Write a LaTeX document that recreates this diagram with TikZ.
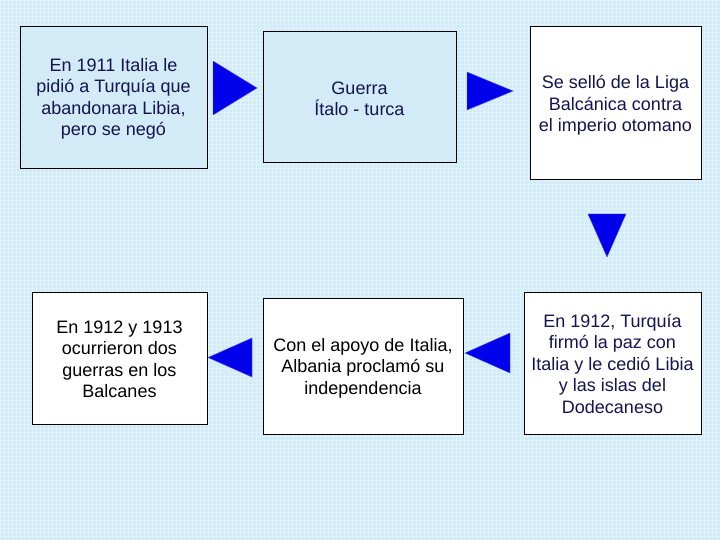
\documentclass[tikz,border=0pt]{standalone}
\usepackage{fontspec}
\setmainfont{Liberation Sans}
\usetikzlibrary{calc}
\definecolor{bgblue}{RGB}{210,235,247}
\definecolor{gridblue}{RGB}{223,241,250}
\definecolor{navytext}{RGB}{20,20,80}
\definecolor{arrowblue}{RGB}{0,0,235}
\tikzset{
  box/.style={draw=black, line width=0.9pt, inner sep=0pt, font=\fontsize{18}{21.5}\selectfont, align=center},
  bluebox/.style={box, fill=bgblue, text=navytext},
  whitebox/.style={box, fill=white},
  tri/.style={fill=arrowblue, draw=arrowblue!70!white, line width=0.4pt, line join=miter}
}
\begin{document}
\begin{tikzpicture}[x=1pt,y=-1pt]
\useasboundingbox (0,0) rectangle (720,540);
\fill[bgblue] (0,0) rectangle (720,540);
\foreach \i in {0,4,...,720} {\draw[gridblue, line width=0.5pt] (\i,0) -- (\i,540);}
\foreach \j in {0,4,...,540} {\draw[gridblue, line width=0.5pt] (0,\j) -- (720,\j);}
% boxes
\node[bluebox, minimum width=187pt, minimum height=142pt] (b1) at (113.5,97) {\rule{0pt}{17pt}En 1911 Italia le\\pidió a Turquía que\\abandonara Libia,\\pero se negó};
\node[bluebox, minimum width=193pt, minimum height=131pt] (b2) at (359.5,96.5) {\rule{0pt}{17pt}Guerra\\Ítalo - turca};
\node[whitebox, text=navytext, minimum width=171pt, minimum height=153pt] (b3) at (615.5,102.5) {\rule{0pt}{19pt}Se selló de la Liga\\Balcánica contra\\el imperio otomano};
\node[whitebox, text=navytext, minimum width=177pt, minimum height=142pt] (b4) at (612.5,363) {\rule{0pt}{15pt}En 1912, Turquía\\firmó la paz con\\Italia y le cedió Libia\\y las islas del\\Dodecaneso};
\node[whitebox, text=black, minimum width=200pt, minimum height=136pt] (b5) at (363,366) {\rule{0pt}{17pt}Con el apoyo de Italia,\\Albania proclamó su\\independencia};
\node[whitebox, text=black, minimum width=175pt, minimum height=132pt] (b6) at (119.5,358) {\rule{0pt}{15pt}En 1912 y 1913\\ocurrieron dos\\guerras en los\\Balcanes};
% triangle arrows
\coordinate (t1) at (235,88);
\fill[tri] ($(t1)+(-22,-27)$) -- ($(t1)+(22,0)$) -- ($(t1)+(-22,27)$) -- cycle;
\coordinate (t2) at (490,91);
\fill[tri] ($(t2)+(-23,-19)$) -- ($(t2)+(23,0)$) -- ($(t2)+(-23,19)$) -- cycle;
\coordinate (t3) at (607,235.5);
\fill[tri] ($(t3)+(-19,-21.5)$) -- ($(t3)+(19,-21.5)$) -- ($(t3)+(0,21.5)$) -- cycle;
\coordinate (t4) at (487.5,353);
\fill[tri] ($(t4)+(22.5,-20)$) -- ($(t4)+(-22.5,0)$) -- ($(t4)+(22.5,20)$) -- cycle;
\coordinate (t5) at (230,357.5);
\fill[tri] ($(t5)+(22,-19.5)$) -- ($(t5)+(-22,0)$) -- ($(t5)+(22,19.5)$) -- cycle;
\end{tikzpicture}
\end{document}
